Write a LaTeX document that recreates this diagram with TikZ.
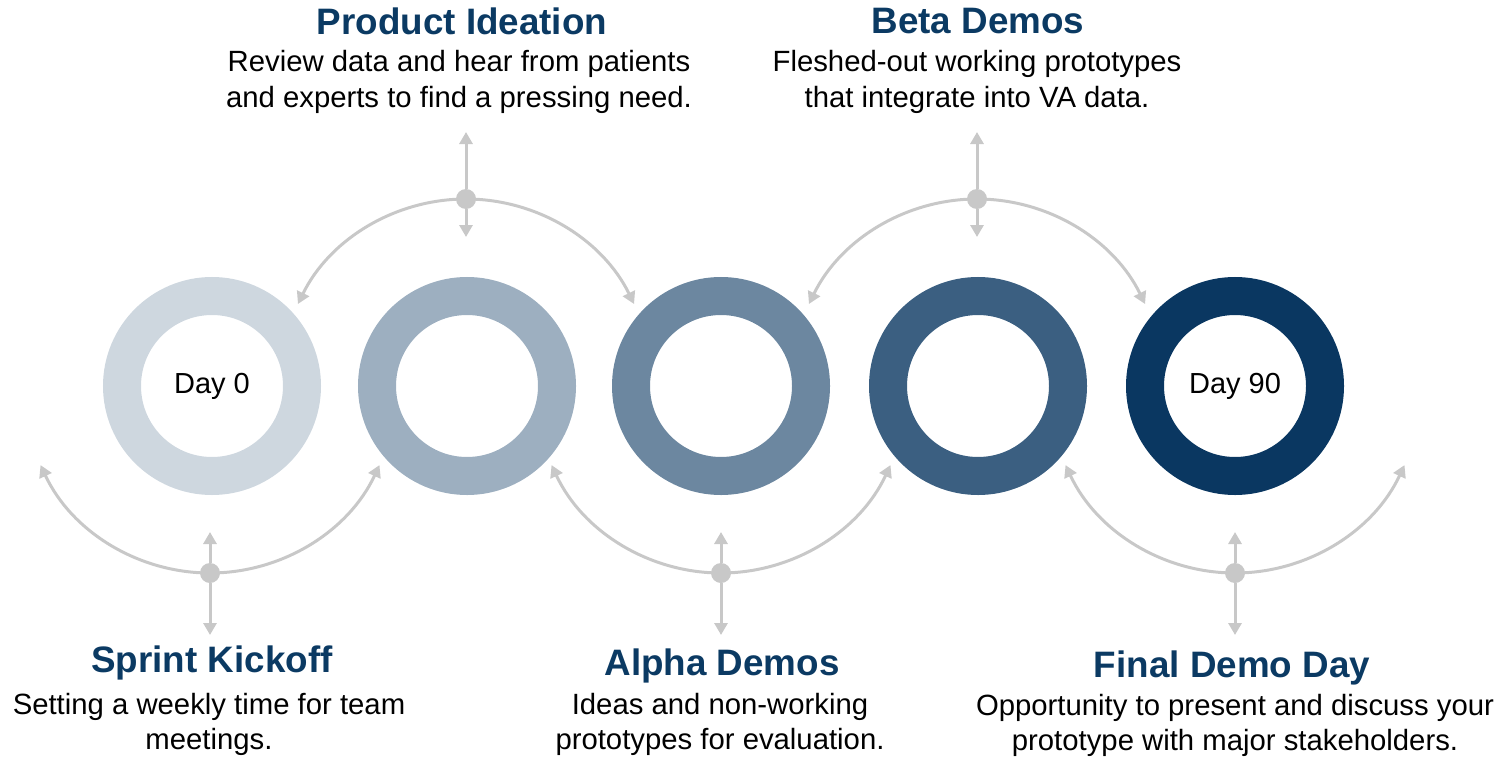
\documentclass[tikz,border=0pt]{standalone}
\usepackage{fontspec}
\setmainfont{Liberation Sans}
\usepackage{tikz}
\usetikzlibrary{arrows.meta, positioning}
\definecolor{ringblue}{RGB}{10, 55, 97}
\definecolor{titleblue}{RGB}{11, 58, 99}
\definecolor{arrowgray}{RGB}{200, 200, 200}

\tikzset{
    ring/.style={circle, draw=#1, line width=19pt, minimum size=90pt, inner sep=0pt,
        font=\fontsize{14.5}{17}\selectfont},
    hub/.style={circle, fill=arrowgray, minimum size=10pt, inner sep=0pt},
    link/.style={draw=arrowgray, line width=1.5pt, -{Triangle[width=6.5pt, length=6pt]}},
    title/.style={anchor=base, text=titleblue, font=\fontsize{18.4}{22}\selectfont\bfseries},
    blurb/.style={anchor=base, align=center, font=\fontsize{14.65}{17.5}\selectfont},
}

\begin{document}
\begin{tikzpicture}[x=0.5pt, y=0.5pt]
    \useasboundingbox (0,0) rectangle (1503,757);

    % Rings
    \node[ring=ringblue!20] (day0) at (212,371) {Day 0};
    \node[ring=ringblue!40] (ring2) at (467,371) {};
    \node[ring=ringblue!60] (ring3) at (721,371) {};
    \node[ring=ringblue!80] (ring4) at (978,371) {};
    \node[ring=ringblue] (day90) at (1235,371) {Day 90};

    % Hubs
    \node[hub] (ideaHub) at (466,558) {};
    \node[hub] (betaHub) at (977,558) {};
    \node[hub] (kickHub) at (210,184) {};
    \node[hub] (alphaHub) at (721,184) {};
    \node[hub] (finalHub) at (1235,184) {};

    % Arcs and arrows above
    \foreach \h in {ideaHub, betaHub} {
        \draw[link] (\h) arc[start angle=90, end angle=154, radius=187];
        \draw[link] (\h) arc[start angle=90, end angle=26, radius=187];
        \draw[link] (\h) -- ++(0,67);
        \draw[link] (\h) -- ++(0,-38);
    }

    % Arcs and arrows below
    \foreach \h in {kickHub, alphaHub, finalHub} {
        \draw[link] (\h) arc[start angle=270, end angle=205, radius=187];
        \draw[link] (\h) arc[start angle=270, end angle=335, radius=187];
        \draw[link] (\h) -- ++(0,41);
        \draw[link] (\h) -- ++(0,-62);
    }

    % Labels
    \node[title] (ideaTitle) at (462,722) {Product Ideation};
    \node[blurb] (ideaText) at (459,650) {Review data and hear from patients\\and experts to find a pressing need.};
    \node[title] (betaTitle) at (978,723) {Beta Demos};
    \node[blurb] (betaText) at (977,650) {Fleshed-out working prototypes\\that integrate into VA data.};
    \node[title] (kickTitle) at (212,85) {Sprint Kickoff};
    \node[blurb] (kickText) at (209,7.5) {Setting a weekly time for team\\meetings.};
    \node[title] (alphaTitle) at (722,82) {Alpha Demos};
    \node[blurb] (alphaText) at (720,7.5) {Ideas and non-working\\prototypes for evaluation.};
    \node[title] (finalTitle) at (1232,80) {Final Demo Day};
    \node[blurb] (finalText) at (1235,7) {Opportunity to present and discuss your\\prototype with major stakeholders.};
\end{tikzpicture}
\end{document}
